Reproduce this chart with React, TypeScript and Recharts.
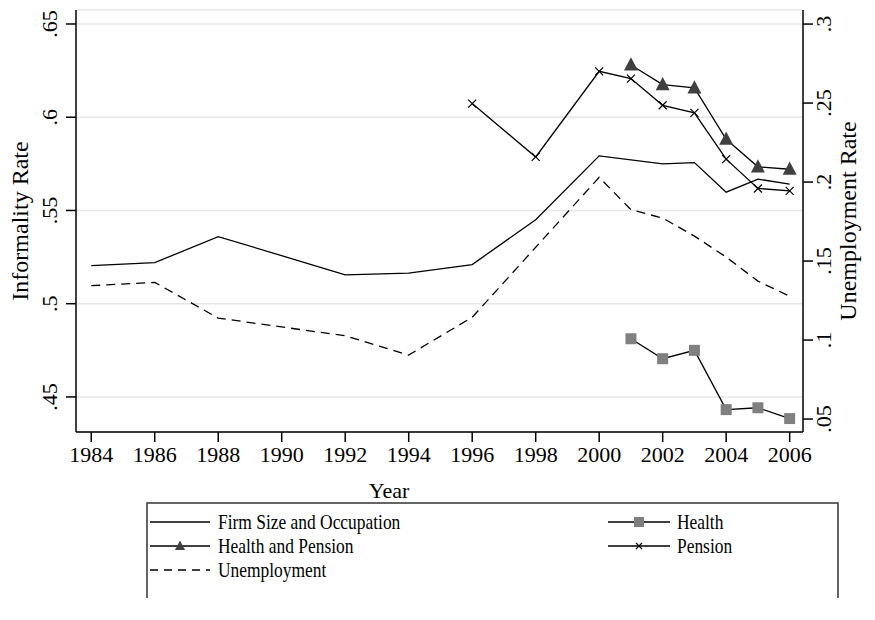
import { CartesianGrid, Line, LineChart, XAxis, YAxis } from "recharts"

const years = [1984, 1986, 1988, 1992, 1994, 1996, 1998, 2000, 2001, 2002, 2003, 2004, 2005, 2006]
const firmSize = [0.5204, 0.522, 0.536, 0.5155, 0.5164, 0.521, 0.545, 0.5793, null, 0.575, 0.5757, 0.5598, 0.5668, 0.5641]
const unemployment = [0.1344, 0.1365, 0.1139, 0.1027, 0.0905, 0.1144, 0.1587, 0.203, 0.1825, 0.1772, 0.1658, 0.1525, 0.1373, 0.1277]
const health = [null, null, null, null, null, null, null, null, 0.4812, 0.4705, 0.475, 0.4432, 0.4442, 0.4384]
const healthPension = [null, null, null, null, null, null, null, null, 0.628, 0.6175, 0.6157, 0.5882, 0.5734, 0.5721]
const pension = [null, null, null, null, null, 0.6073, 0.5787, 0.6246, 0.6207, 0.6064, 0.6023, 0.5775, 0.5618, 0.5605]

const xTicks = [1984, 1986, 1988, 1990, 1992, 1994, 1996, 1998, 2000, 2002, 2004, 2006]
const leftTicks = [0.45, 0.5, 0.55, 0.6, 0.65]
const rightTicks = [0.05, 0.1, 0.15, 0.2, 0.25, 0.3]

const data = years.map((year, i) => ({
  year,
  firmSize: firmSize[i],
  unemployment: unemployment[i],
  health: health[i],
  healthPension: healthPension[i],
  pension: pension[i],
}))

const FONT = "'Liberation Serif', 'Times New Roman', Times, serif"
const FS = 22
const TITLE_FS = 24
const LEG_FS = 21

const fmt = (v: number) => String(Number(v.toFixed(2))).replace(/^0/, "")

const XTick = ({ x, y, payload }: any) => (
  <text x={x} y={y + 20} textAnchor="middle" fontFamily={FONT} fontSize={FS} fill="#000">
    {payload.value}
  </text>
)

const LeftTick = ({ x, y, payload }: any) => (
  <text transform={`translate(${x - 9},${y}) rotate(-90)`} textAnchor="middle" fontFamily={FONT} fontSize={FS} fill="#000">
    {fmt(payload.value)}
  </text>
)

const RightTick = ({ x, y, payload }: any) => (
  <text transform={`translate(${x + 18},${y}) rotate(-90)`} textAnchor="middle" fontFamily={FONT} fontSize={FS} fill="#000">
    {fmt(payload.value)}
  </text>
)

const Square = ({ cx, cy, size = 11 }: any) =>
  cx == null || cy == null ? null : <rect x={cx - size / 2} y={cy - size / 2} width={size} height={size} fill="#808080" />

const Triangle = ({ cx, cy, size = 14 }: any) =>
  cx == null || cy == null ? null : (
    <polygon
      points={`${cx},${cy - size * 0.55} ${cx - size / 2},${cy + size * 0.4} ${cx + size / 2},${cy + size * 0.4}`}
      fill="#404040"
    />
  )

const Cross = ({ cx, cy, size = 4 }: any) =>
  cx == null || cy == null ? null : (
    <path
      d={`M${cx - size},${cy - size}L${cx + size},${cy + size}M${cx - size},${cy + size}L${cx + size},${cy - size}`}
      stroke="#000"
      strokeWidth={1.2}
    />
  )

// Stata draws the key labels a bit condensed
const LegendLabel = ({ x, y, children }: any) => (
  <text transform={`translate(${x},${y}) scale(0.83,1)`} fontFamily={FONT} fontSize={LEG_FS} fill="#000">
    {children}
  </text>
)

const ChartLegend = () => (
  <g>
    <path d="M147,598V503H838V598" fill="none" stroke="#333" strokeWidth={1.5} />
    <line x1={150} x2={210} y1={522} y2={522} stroke="#000" strokeWidth={1.5} />
    <LegendLabel x={218} y={529}>Firm Size and Occupation</LegendLabel>
    <line x1={150} x2={210} y1={546} y2={546} stroke="#000" strokeWidth={1.5} />
    <Triangle cx={180} cy={546} size={10} />
    <LegendLabel x={218} y={553}>Health and Pension</LegendLabel>
    <line x1={150} x2={210} y1={570} y2={570} stroke="#000" strokeWidth={1.5} strokeDasharray="8 6" />
    <LegendLabel x={218} y={577}>Unemployment</LegendLabel>
    <line x1={608} x2={670} y1={522} y2={522} stroke="#000" strokeWidth={1.5} />
    <Square cx={639} cy={522} size={10} />
    <LegendLabel x={677} y={529}>Health</LegendLabel>
    <line x1={608} x2={670} y1={546} y2={546} stroke="#000" strokeWidth={1.5} />
    <Cross cx={639} cy={546} size={3} />
    <LegendLabel x={677} y={553}>Pension</LegendLabel>
  </g>
)

export default function App() {
  return (
    <div style={{ position: "absolute", left: 0, top: 0, width: 875, height: 620, background: "#fff" }}>
      <LineChart width={875} height={620} data={data} margin={{ top: 10, right: 0, bottom: 138, left: 0 }}>
        <CartesianGrid yAxisId="left" vertical={false} stroke="#e6e6e6" strokeWidth={1.5} />
        <XAxis
          dataKey="year"
          type="number"
          domain={[1983.52, 2006.42]}
          ticks={xTicks}
          allowDataOverflow
          height={50}
          tickSize={10}
          tickMargin={0}
          tick={<XTick />}
          axisLine={{ stroke: "#000", strokeWidth: 1.5 }}
          tickLine={{ stroke: "#000", strokeWidth: 1.5 }}
        />
        <YAxis
          yAxisId="left"
          orientation="left"
          type="number"
          domain={[0.4312, 0.6575]}
          ticks={leftTicks}
          allowDataOverflow
          width={76}
          tickSize={10}
          tickMargin={0}
          tick={<LeftTick />}
          axisLine={{ stroke: "#000", strokeWidth: 1.5 }}
          tickLine={{ stroke: "#000", strokeWidth: 1.5 }}
        />
        <YAxis
          yAxisId="right"
          orientation="right"
          type="number"
          domain={[0.0418, 0.3089]}
          ticks={rightTicks}
          allowDataOverflow
          width={72}
          tickSize={10}
          tickMargin={0}
          tick={<RightTick />}
          axisLine={{ stroke: "#000", strokeWidth: 1.5 }}
          tickLine={{ stroke: "#000", strokeWidth: 1.5 }}
        />
        <Line yAxisId="left" dataKey="firmSize" stroke="#000" strokeWidth={1.3} dot={false} connectNulls isAnimationActive={false} />
        <Line yAxisId="left" dataKey="health" stroke="#000" strokeWidth={1.3} dot={<Square />} connectNulls isAnimationActive={false} />
        <Line yAxisId="left" dataKey="healthPension" stroke="#000" strokeWidth={1.3} dot={<Triangle />} connectNulls isAnimationActive={false} />
        <Line yAxisId="left" dataKey="pension" stroke="#000" strokeWidth={1.3} dot={<Cross />} connectNulls isAnimationActive={false} />
        <Line yAxisId="right" dataKey="unemployment" stroke="#000" strokeWidth={1.3} strokeDasharray="9 6" dot={false} connectNulls isAnimationActive={false} />
        <text transform="translate(28,221) rotate(-90)" textAnchor="middle" fontFamily={FONT} fontSize={TITLE_FS} fill="#000">
          Informality Rate
        </text>
        <text transform="translate(856,221) rotate(-90)" textAnchor="middle" fontFamily={FONT} fontSize={TITLE_FS} fill="#000">
          Unemployment Rate
        </text>
        <text x={389} y={498} textAnchor="middle" fontFamily={FONT} fontSize={FS} fill="#000">
          Year
        </text>
        <ChartLegend />
      </LineChart>
    </div>
  )
}
